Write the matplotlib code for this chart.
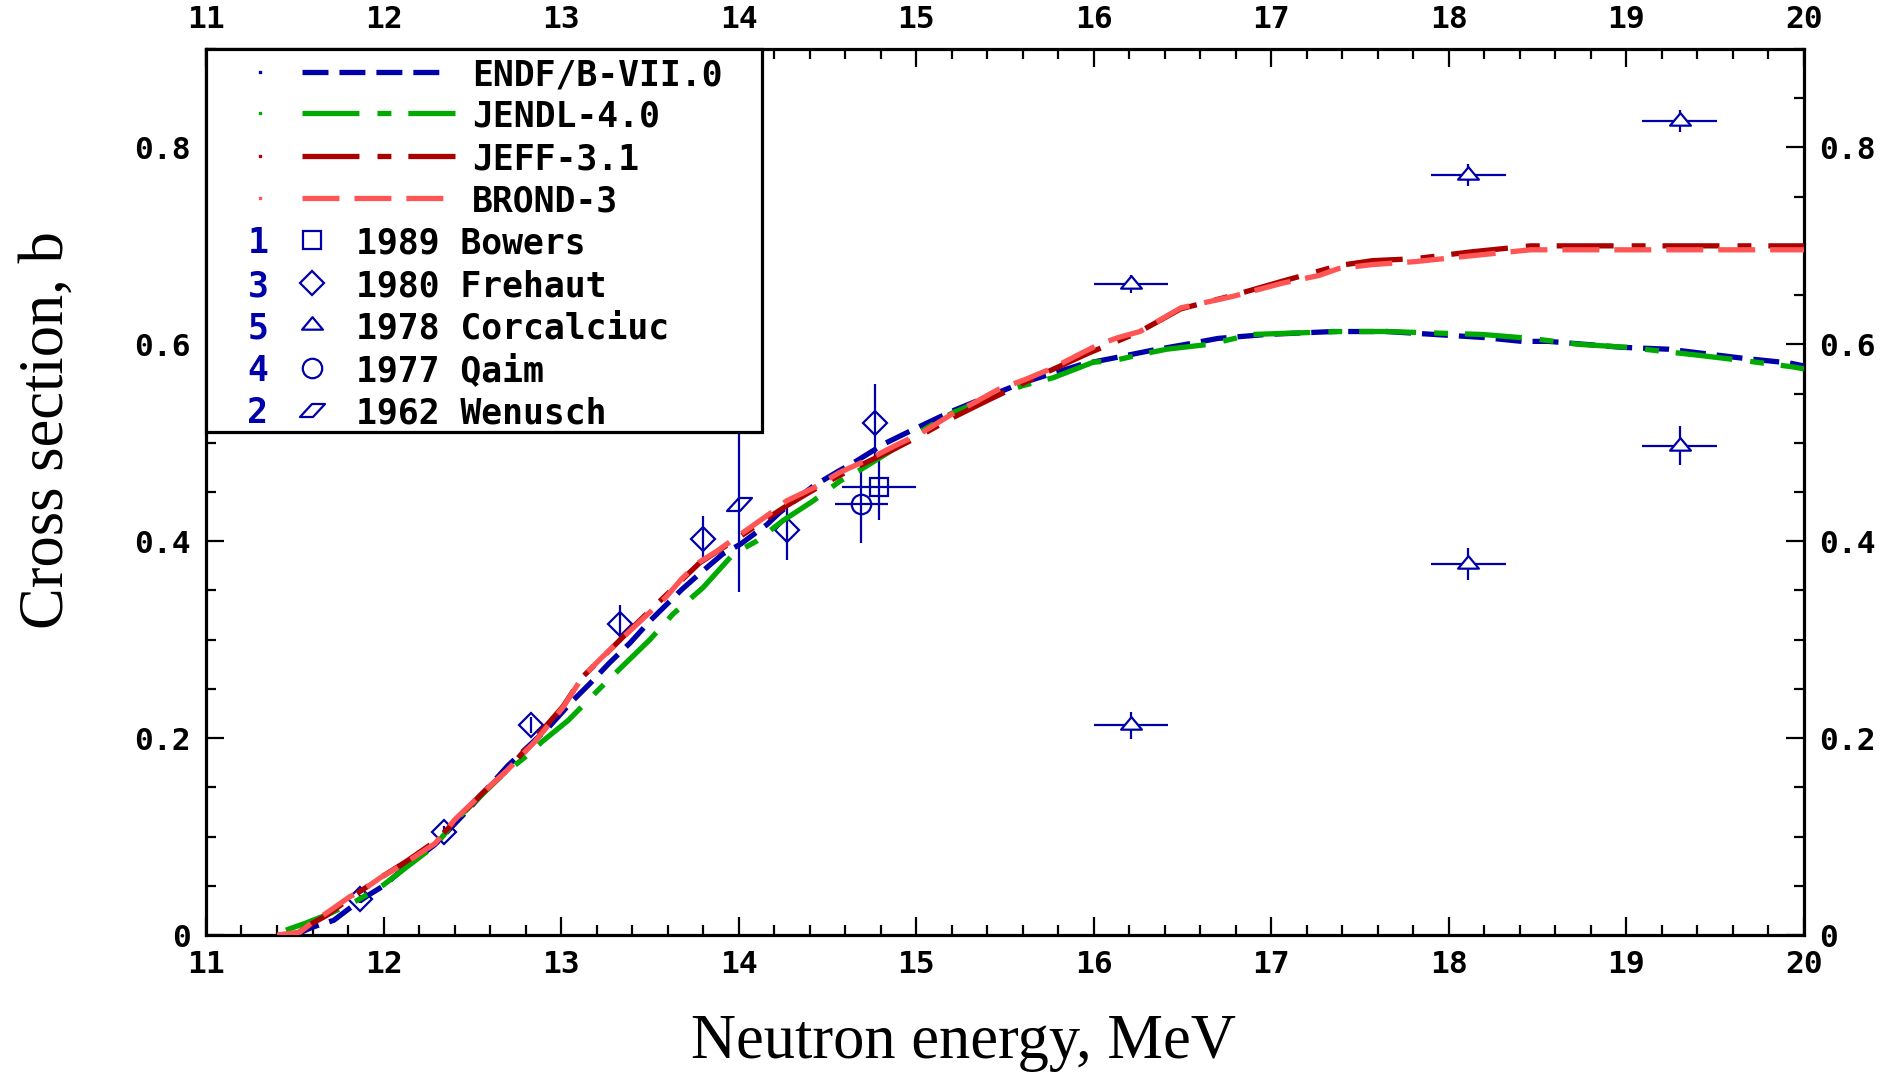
import matplotlib
matplotlib.use('Agg')
import matplotlib.pyplot as plt
from matplotlib.path import Path
from matplotlib.lines import Line2D
from matplotlib.patches import Rectangle
from matplotlib.ticker import MultipleLocator, FixedLocator, FixedFormatter

plt.rcParams['lines.scale_dashes'] = False
plt.rcParams['font.family'] = ['DejaVu Sans Mono']
plt.rcParams['font.weight'] = 'bold'

# ---------------- evaluated data ----------------
endf_e = [11.50, 11.60, 11.72, 11.80, 11.91, 12.00, 12.13, 12.29, 12.48, 12.70, 12.93, 13.06,
          13.16, 13.27, 13.39, 13.50, 13.68, 13.78, 13.91, 14.01, 14.16, 14.23, 14.42, 14.57,
          14.65, 14.82, 14.99, 15.20, 15.39, 15.60, 15.76, 15.94, 16.11, 16.33, 16.52, 16.70,
          16.97, 17.35, 17.65, 17.92, 18.19, 18.41, 18.56, 18.97, 19.24, 19.65, 19.92, 20.00]
endf_s = [0.000, 0.008, 0.015, 0.026, 0.040, 0.050, 0.070, 0.092, 0.128, 0.172, 0.211, 0.237,
          0.255, 0.276, 0.297, 0.319, 0.351, 0.367, 0.387, 0.397, 0.417, 0.429, 0.456, 0.472,
          0.480, 0.499, 0.514, 0.532, 0.546, 0.561, 0.570, 0.580, 0.586, 0.594, 0.600, 0.606,
          0.610, 0.613, 0.613, 0.610, 0.607, 0.603, 0.603, 0.597, 0.595, 0.586, 0.581, 0.578]

jendl_e = [11.45, 11.56, 11.70, 11.85, 12.00, 12.13, 12.29, 12.42, 12.66, 12.82, 12.89, 13.04,
           13.21, 13.34, 13.50, 13.63, 13.80, 13.97, 14.10, 14.25, 14.42, 14.57, 14.69, 14.86,
           15.03, 15.20, 15.40, 15.60, 15.77, 16.00, 16.10, 16.30, 16.41, 16.65, 16.89, 17.38,
           17.65, 18.19, 18.46, 18.73, 19.00, 19.40, 19.68, 19.94, 20.00]
jendl_s = [0.005, 0.012, 0.022, 0.035, 0.051, 0.069, 0.091, 0.119, 0.161, 0.184, 0.196, 0.218,
           0.249, 0.272, 0.300, 0.326, 0.353, 0.387, 0.400, 0.421, 0.441, 0.461, 0.473, 0.492,
           0.512, 0.530, 0.545, 0.558, 0.566, 0.582, 0.583, 0.591, 0.595, 0.600, 0.610, 0.613,
           0.613, 0.610, 0.606, 0.600, 0.597, 0.589, 0.583, 0.577, 0.575]

jeff_e = [11.50, 11.60, 11.68, 11.80, 11.98, 12.13, 12.29, 12.40, 12.55, 12.70, 12.85, 13.01,
          13.12, 13.25, 13.40, 13.59, 13.78, 13.90, 14.01, 14.16, 14.27, 14.42, 14.57, 14.73,
          14.88, 15.03, 15.20, 15.39, 15.69, 15.97, 16.25, 16.49, 16.79, 17.06, 17.38, 17.57,
          17.81, 18.13, 18.46, 19.00, 19.50, 20.00]
jeff_s = [0.000, 0.012, 0.020, 0.036, 0.058, 0.075, 0.095, 0.115, 0.143, 0.168, 0.199, 0.232,
          0.262, 0.285, 0.312, 0.345, 0.378, 0.392, 0.405, 0.423, 0.436, 0.452, 0.467, 0.481,
          0.494, 0.508, 0.525, 0.542, 0.568, 0.591, 0.612, 0.636, 0.650, 0.664, 0.680, 0.685,
          0.687, 0.694, 0.700, 0.700, 0.700, 0.700]

brond_e = [11.40, 11.53, 11.585, 11.70, 11.81, 11.87, 11.98, 12.13, 12.29, 12.40, 12.55, 12.70,
           12.85, 13.01, 13.12, 13.23, 13.40, 13.59, 13.68, 13.78, 13.87, 14.01, 14.16, 14.27,
           14.42, 14.57, 14.73, 14.88, 15.03, 15.20, 15.33, 15.46, 15.61, 15.77, 15.92, 16.03,
           16.14, 16.26, 16.49, 16.59, 16.79, 17.06, 17.27, 17.38, 17.57, 17.81, 18.13, 18.46,
           19.00, 19.50, 20.00]
brond_s = [0.000, 0.003, 0.011, 0.025, 0.039, 0.044, 0.058, 0.074, 0.093, 0.117, 0.143, 0.168,
           0.196, 0.231, 0.262, 0.282, 0.311, 0.343, 0.362, 0.379, 0.389, 0.407, 0.426, 0.441,
           0.454, 0.470, 0.483, 0.497, 0.510, 0.529, 0.541, 0.554, 0.564, 0.576, 0.590, 0.600,
           0.607, 0.613, 0.637, 0.641, 0.649, 0.662, 0.670, 0.677, 0.681, 0.684, 0.690, 0.696,
           0.696, 0.696, 0.696]

# ---------------- experimental data ----------------
bowers_e, bowers_s, bowers_de, bowers_ds = [14.79], [0.455], [0.21], [0.033]
frehaut_e = [11.87, 12.34, 12.83, 13.33, 13.80, 14.27, 14.77]
frehaut_s = [0.037, 0.105, 0.213, 0.316, 0.402, 0.411, 0.520]
frehaut_ds = [0.004, 0.006, 0.008, 0.019, 0.024, 0.030, 0.040]
corc_e = [16.21, 16.21, 18.11, 18.11, 19.30, 19.30]
corc_s = [0.661, 0.213, 0.772, 0.377, 0.827, 0.497]
corc_de = [0.21, 0.21, 0.21, 0.21, 0.21, 0.21]
corc_ds = [0.009, 0.014, 0.011, 0.016, 0.011, 0.020]
qaim_e, qaim_s, qaim_de, qaim_ds = [14.69], [0.438], [0.15], [0.040]
wen_e, wen_s, wen_ds = [14.00], [0.438], [0.090]

x_ticks = [11, 12, 13, 14, 15, 16, 17, 18, 19, 20]
x_tick_labels = ['11', '12', '13', '14', '15', '16', '17', '18', '19', '20']
y_ticks = [0, 0.2, 0.4, 0.6, 0.8]
y_tick_labels = ['0', '0.2', '0.4', '0.6', '0.8']

eval_names = ['ENDF/B-VII.0', 'JENDL-4.0', 'JEFF-3.1', 'BROND-3']
exp_numbers = ['1', '3', '5', '4', '2']
exp_names = ['1989 Bowers', '1980 Frehaut', '1978 Corcalciuc', '1977 Qaim', '1962 Wenusch']

# ---------------- styles ----------------
BLUE = '#0000AA'
GREEN = '#00AA00'
DRED = '#AA0000'
SALMON = '#FF5555'
eval_colors = [BLUE, GREEN, DRED, SALMON]
eval_dashes = [(18.7, 7.9), (41, 13, 10, 12.2), (41, 13, 10, 12.2), (26.6, 10.8)]

tri = Path([(0, 0.8), (-1, -0.4), (1, -0.4), (0, 0.8), (0, 0)],
           [Path.MOVETO, Path.LINETO, Path.LINETO, Path.LINETO, Path.CLOSEPOLY])
para = Path([(-1, -0.52), (0.04, -0.52), (1, 0.52), (-0.04, 0.52), (0, 0)],
            [Path.MOVETO, Path.LINETO, Path.LINETO, Path.LINETO, Path.CLOSEPOLY])
exp_markers = ['s', 'D', tri, 'o', para]
exp_ms = [13, 12.5, 15, 14, 18]

fig = plt.figure(figsize=(18.88, 10.76), dpi=100)
ax = fig.add_axes([0.1091, 0.1310, 0.8464, 0.8235])

# experimental
eb = dict(fmt='none', ecolor=BLUE, elinewidth=1.6, capsize=0, zorder=2)
ax.errorbar(bowers_e, bowers_s, xerr=bowers_de, yerr=bowers_ds, **eb)
ax.errorbar(frehaut_e, frehaut_s, yerr=frehaut_ds, **eb)
ax.errorbar(corc_e, corc_s, xerr=corc_de, yerr=corc_ds, **eb)
ax.errorbar(qaim_e, qaim_s, xerr=qaim_de, yerr=qaim_ds, **eb)
ax.errorbar(wen_e, wen_s, yerr=wen_ds, **eb)
exp_sets = [(bowers_e, bowers_s), (frehaut_e, frehaut_s), (corc_e, corc_s),
            (qaim_e, qaim_s), (wen_e, wen_s)]
for (xe, ye), m, ms in zip(exp_sets, exp_markers, exp_ms):
    fc = 'white' if m is tri else 'none'
    ax.plot(xe, ye, ls='none', marker=m, ms=ms, mfc=fc, mec=BLUE, mew=1.6, zorder=2.5)

# evaluated
evals = [(endf_e, endf_s), (jendl_e, jendl_s), (jeff_e, jeff_s), (brond_e, brond_s)]
for (xe, ye), c, d in zip(evals, eval_colors, eval_dashes):
    ln, = ax.plot(xe, ye, color=c, lw=3.8, zorder=3, dash_capstyle='butt')
    ln.set_dashes(d)

ax.set_xlim(11, 20)
ax.set_ylim(0, 0.9)
ax.xaxis.set_major_locator(FixedLocator(x_ticks))
ax.xaxis.set_major_formatter(FixedFormatter(x_tick_labels))
ax.xaxis.set_minor_locator(MultipleLocator(0.2))
ax.yaxis.set_major_locator(FixedLocator(y_ticks))
ax.yaxis.set_major_formatter(FixedFormatter(y_tick_labels))
ax.yaxis.set_minor_locator(MultipleLocator(0.05))
ax.tick_params(which='both', direction='in', top=True, right=True,
               labeltop=True, labelright=True, width=1.6, color='black')
ax.tick_params(which='major', length=13, labelsize=22.5)
ax.tick_params(which='minor', length=7.5)
ax.tick_params(axis='x', which='major', pad=11)
ax.tick_params(axis='y', which='major', pad=11)
for s in ax.spines.values():
    s.set_linewidth(2.3)

ax.set_xlabel('Neutron energy, MeV', fontfamily='Liberation Serif', fontweight='normal',
              fontsize=45)
ax.set_ylabel('Cross section, b', fontfamily='Liberation Serif', fontweight='normal',
              fontsize=45)
ax.xaxis.label.set_va('center')
ax.xaxis.set_label_coords(0.474, -0.122)
ax.yaxis.label.set_va('center')
ax.yaxis.label.set_ha('center')
ax.yaxis.set_label_coords(-0.099, 0.57)

# ---------------- legend (drawn by hand) ----------------
T = ax.transAxes
ax.add_patch(Rectangle((0, 0.568), 0.348, 0.432, transform=T, facecolor='white',
                       edgecolor='black', lw=2.3, zorder=10, clip_on=False))
rows = [0.974, 0.9278, 0.8792, 0.8318, 0.7844, 0.7359, 0.6885, 0.6400, 0.5926]
line_ends = [0.147, 0.156, 0.156, 0.149]
for i, (name, c, d) in enumerate(zip(eval_names, eval_colors, eval_dashes)):
    y = rows[i]
    ax.add_line(Line2D([0.0338], [y], transform=T, ls='none', marker='s', ms=2,
                       mfc=c, mec=c, zorder=11, clip_on=False))
    ln = Line2D([0.060, line_ends[i]], [y, y], transform=T, color=c, lw=3.8,
                zorder=11, clip_on=False, dash_capstyle='butt')
    ln.set_dashes(d)
    ax.add_line(ln)
    ax.text(0.1665, y, name, transform=T, fontsize=25, color='black',
            va='center_baseline', ha='left', zorder=12)
for j, (num, name, m, ms) in enumerate(zip(exp_numbers, exp_names, exp_markers, exp_ms)):
    y = rows[4 + j]
    ax.text(0.0325, y, num, transform=T, fontsize=25, color=BLUE,
            va='center_baseline', ha='center', zorder=12)
    ax.add_line(Line2D([0.0663], [y], transform=T, ls='none', marker=m, ms=ms,
                       mfc='none', mec=BLUE, mew=1.6, zorder=11, clip_on=False))
    ax.text(0.0939, y, name, transform=T, fontsize=25, color='black',
            va='center_baseline', ha='left', zorder=12)

fig.savefig('out.png', dpi=100)
